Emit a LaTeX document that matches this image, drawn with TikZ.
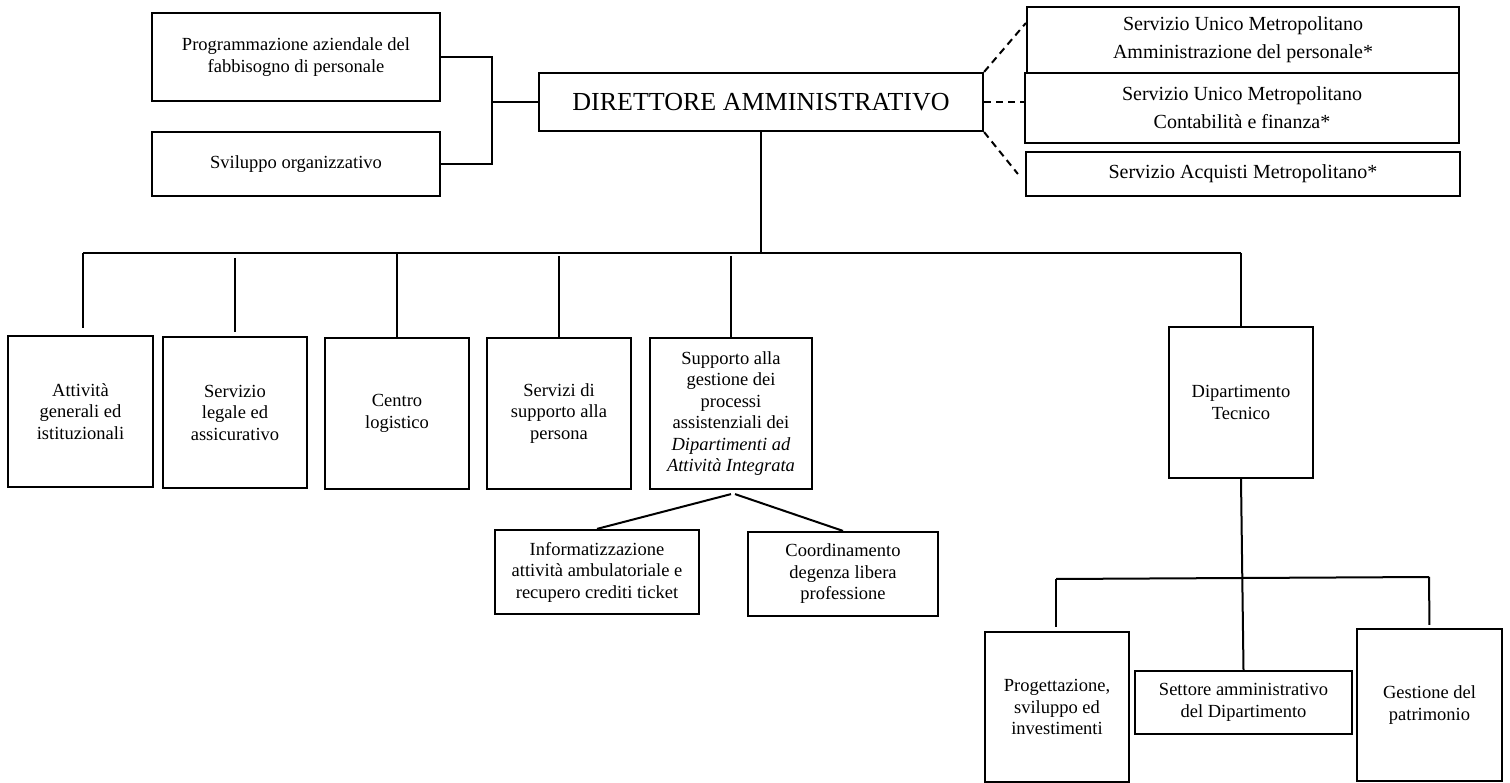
\documentclass[tikz,border=0pt]{standalone}
\usepackage{fontspec}
\setmainfont{Liberation Serif}
\begin{document}
\begin{tikzpicture}[x=1pt,y=-1pt,
  box/.style={draw, line width=2.2pt, align=center, inner sep=0pt, font=\fontsize{18.5}{21.5}\selectfont},
  rbox/.style={box, font=\fontsize{20}{28}\selectfont},
  conn/.style={line width=2pt},
  dconn/.style={line width=2pt, dash pattern=on 7pt off 5pt}]
\useasboundingbox (0,0) rectangle (1510,783);
% top left
\node[box, minimum width=288pt, minimum height=88pt] (prog) at (296,57) {Programmazione aziendale del\\fabbisogno di personale};
\node[box, minimum width=288pt, minimum height=64pt] (svil) at (296,164) {Sviluppo organizzativo};
\node[box, minimum width=444pt, minimum height=58pt, font=\fontsize{26}{30}\selectfont] (dir) at (761,102) {DIRETTORE AMMINISTRATIVO};
% top right
\node[rbox, minimum width=432pt, minimum height=66pt] (sumA) at (1243,40) {Servizio Unico Metropolitano\\Amministrazione del personale*};
\node[rbox, minimum width=434pt, minimum height=70pt] (sumB) at (1242,108) {Servizio Unico Metropolitano\\Contabilità e finanza*};
\node[rbox, minimum width=434pt, minimum height=44pt] (acq) at (1243,174) {Servizio Acquisti Metropolitano*};
% middle row
\node[box, minimum width=145pt, minimum height=151pt] (att) at (80.5,411.5) {Attività\\generali ed\\istituzionali};
\node[box, minimum width=144pt, minimum height=151pt] (leg) at (235,412.5) {Servizio\\legale ed\\assicurativo};
\node[box, minimum width=144pt, minimum height=151pt] (cen) at (397,413.5) {Centro\\logistico};
\node[box, minimum width=144pt, minimum height=151pt] (ser) at (559,413.5) {Servizi di\\supporto alla\\persona};
\node[box, minimum width=162pt, minimum height=151pt] (sup) at (731,413.5) {Supporto alla\\gestione dei\\processi\\assistenziali dei\\\textit{Dipartimenti ad}\\\textit{Attività Integrata}};
\node[box, minimum width=204pt, minimum height=84pt] (inf) at (597,572) {Informatizzazione\\attività ambulatoriale e\\recupero crediti ticket};
\node[box, minimum width=190pt, minimum height=84pt] (coo) at (843,574) {Coordinamento\\degenza libera\\professione};
\node[box, minimum width=144pt, minimum height=151pt] (dip) at (1241,402.5) {Dipartimento\\Tecnico};
% bottom right
\node[box, minimum width=144pt, minimum height=150pt] (pro) at (1057,707) {Progettazione,\\sviluppo ed\\investimenti};
\node[box, minimum width=217pt, minimum height=63pt] (set) at (1243.5,702.5) {Settore amministrativo\\del Dipartimento};
\node[box, minimum width=145pt, minimum height=152pt] (ges) at (1429.5,705) {Gestione del\\patrimonio};
% connectors top
\coordinate (j1) at (492,102);
\draw[conn] (prog.east) -| (j1) |- (svil.east);
\draw[conn] (j1) -- (dir.west);
\draw[dconn] (dir.north east) -- ([yshift=17pt]sumA.west);
\draw[dconn] (dir.east) -- (dir.east -| sumB.west);
\draw[dconn] (dir.south east) -- ([xshift=-7pt]acq.west);
% bus
\coordinate (busL) at (83,253);
\coordinate (busR) at (1241,253);
\draw[conn] (busL) -- (busR);
\draw[conn] (dir.south) -- (dir.south |- busL);
\draw[conn, shorten >=7pt] (busL) -- (busL |- att.north);
\draw[conn, shorten <=5pt, shorten >=4pt] (leg.north |- busL) -- (leg.north);
\draw[conn] (cen.north |- busL) -- (cen.north);
\draw[conn, shorten <=3pt] (ser.north |- busL) -- (ser.north);
\draw[conn, shorten <=3pt] (sup.north |- busL) -- (sup.north);
\draw[conn] (busR) -- (dip.north);
% sub of sup
\draw[conn] ([yshift=-4pt]sup.south) -- (inf.north);
\draw[conn] ([xshift=4pt,yshift=-4pt]sup.south) -- (coo.north);
% sub of dip
\draw[conn] (dip.south) -- (set.north);
\coordinate (sbL) at (1056,579);
\coordinate (sbR) at (1429,577);
\draw[conn] (sbL) -- (sbR);
\draw[conn, shorten >=4pt] (sbL) -- (sbL |- pro.north);
\draw[conn, shorten >=3pt] (sbR) -- (ges.north);
\end{tikzpicture}
\end{document}
